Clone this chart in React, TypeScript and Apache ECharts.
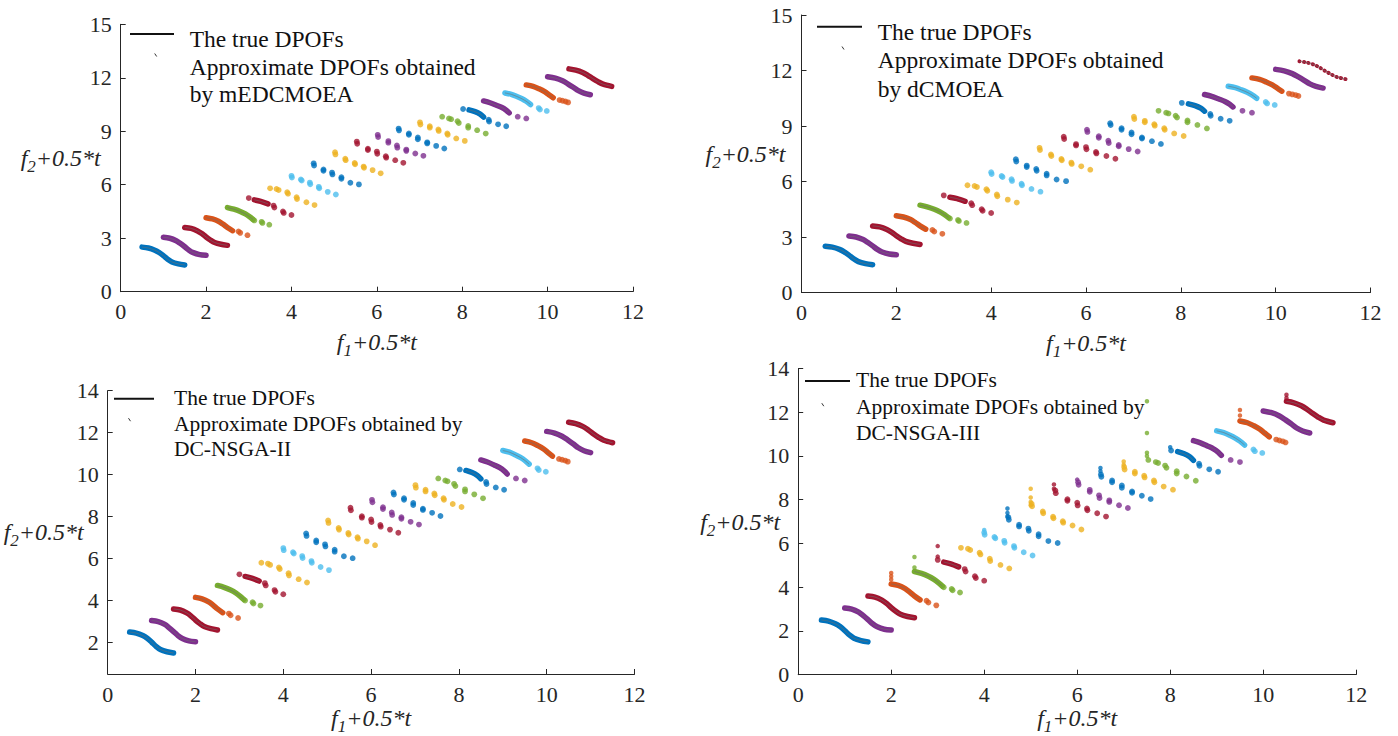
import React, { useEffect, useRef } from "react";
import * as echarts from "echarts";

// ---------- data ----------
const X_TICKS = [0, 2, 4, 6, 8, 10, 12];
const Y_TICKS_A = [0, 3, 6, 9, 12, 15];
const Y_TICKS_C = [2, 4, 6, 8, 10, 12, 14];
const Y_TICKS_D = [0, 2, 4, 6, 8, 10, 12, 14];

const MATLAB: Record<string, string> = {
  blue: "#0072BD",
  orange: "#D95319",
  yellow: "#EDB120",
  purple: "#7E2F8E",
  green: "#77AC30",
  lightblue: "#4DBEEE",
  red: "#A2142F",
};

// colour of each time step (segment), left to right
const SEG_COLORS = [
  "blue", "purple", "red", "orange", "green", "red", "yellow", "lightblue", "blue", "yellow",
  "red", "purple", "blue", "yellow", "green", "blue", "purple", "lightblue", "orange", "purple", "red",
];

// continuous parts of each front: [f1+0.5t, f2+0.5t]
const SEG_RUNS: number[][][] = [
  [[0.5, 2.5], [0.65, 2.45], [0.8, 2.33], [0.9, 2.2], [1.0, 2.02], [1.1, 1.82], [1.2, 1.67], [1.35, 1.56], [1.5, 1.5]],
  [[1.0, 3.05], [1.15, 3.0], [1.3, 2.86], [1.4, 2.7], [1.5, 2.52], [1.6, 2.33], [1.7, 2.19], [1.85, 2.08], [2.0, 2.04]],
  [[1.5, 3.6], [1.65, 3.55], [1.8, 3.41], [1.9, 3.26], [2.0, 3.07], [2.1, 2.9], [2.2, 2.76], [2.35, 2.66], [2.5, 2.6]],
  [[2.0, 4.15], [2.15, 4.08], [2.3, 3.94], [2.4, 3.78], [2.5, 3.6], [2.62, 3.42]],
  [[2.5, 4.72], [2.65, 4.63], [2.8, 4.5], [2.92, 4.36], [3.02, 4.2], [3.1, 4.05]],
  [[3.13, 5.15], [3.28, 5.07], [3.45, 4.93]],
  [], [], [], [], [], [], [], [], [],
  [[8.16, 10.2], [8.3, 10.1], [8.42, 9.96], [8.5, 9.8]],
  [[8.5, 10.7], [8.65, 10.6], [8.8, 10.46], [8.93, 10.33], [9.03, 10.18], [9.1, 10.03]],
  [[9.0, 11.15], [9.15, 11.07], [9.28, 10.95], [9.4, 10.82], [9.5, 10.68], [9.6, 10.5]],
  [[9.5, 11.6], [9.66, 11.52], [9.8, 11.38], [9.93, 11.22], [10.03, 11.05], [10.13, 10.88]],
  [[10.0, 12.06], [10.18, 11.98], [10.35, 11.83], [10.48, 11.65], [10.6, 11.47], [10.72, 11.28], [10.85, 11.14], [11.0, 11.05]],
  [[10.5, 12.5], [10.66, 12.43], [10.82, 12.3], [10.94, 12.14], [11.06, 11.95], [11.18, 11.78], [11.3, 11.64], [11.5, 11.52]],
];

// isolated pieces of each front
const SEG_DOTS: number[][][] = [
  [], [], [],
  [[2.76, 3.38], [2.8, 3.3], [2.97, 3.17]],
  [[3.13, 4.0], [3.3, 3.92], [3.32, 3.86], [3.48, 3.76]],
  [[3.0, 5.25], [3.58, 4.83], [3.6, 4.72], [3.8, 4.5], [3.82, 4.42], [4.0, 4.3]],
  [[3.5, 5.8], [3.65, 5.76], [3.7, 5.7], [3.9, 5.58], [3.92, 5.5], [4.12, 5.3], [4.13, 5.2], [4.35, 5.02], [4.54, 4.86]],
  [[4.0, 6.5], [4.01, 6.4], [4.22, 6.3], [4.24, 6.24], [4.43, 6.12], [4.44, 6.03], [4.64, 5.88], [4.65, 5.8], [4.85, 5.6], [5.04, 5.45]],
  [[4.52, 7.2], [4.53, 7.08], [4.75, 6.86], [4.75, 6.78], [4.95, 6.68], [4.96, 6.58], [5.17, 6.42], [5.17, 6.33], [5.38, 6.11], [5.58, 6.02]],
  [[5.02, 7.82], [5.03, 7.7], [5.26, 7.46], [5.27, 7.38], [5.48, 7.22], [5.49, 7.15], [5.69, 7.02], [5.7, 6.95], [5.9, 6.82], [6.09, 6.64]],
  [[5.53, 8.42], [5.54, 8.3], [5.79, 8.02], [5.79, 7.95], [6.0, 7.86], [6.01, 7.74], [6.21, 7.6], [6.22, 7.52], [6.43, 7.38], [6.62, 7.23]],
  [[6.02, 8.8], [6.03, 8.68], [6.27, 8.45], [6.27, 8.36], [6.47, 8.2], [6.48, 8.08], [6.69, 7.97], [6.69, 7.9], [6.9, 7.75], [7.09, 7.62]],
  [[6.51, 9.15], [6.52, 9.05], [6.75, 8.88], [6.75, 8.8], [6.96, 8.65], [6.96, 8.55], [7.18, 8.38], [7.18, 8.32], [7.39, 8.18], [7.58, 8.03]],
  [[7.01, 9.5], [7.02, 9.38], [7.24, 9.28], [7.24, 9.2], [7.44, 9.1], [7.45, 9.02], [7.65, 8.88], [7.66, 8.8], [7.86, 8.6], [8.06, 8.46]],
  [[7.53, 9.82], [7.69, 9.72], [7.74, 9.68], [7.89, 9.56], [7.92, 9.46], [8.14, 9.3], [8.14, 9.2], [8.35, 9.06], [8.55, 8.87]],
  [[8.02, 10.25], [8.62, 9.65], [8.63, 9.55], [8.84, 9.39], [9.03, 9.28]],
  [[9.3, 9.82], [9.5, 9.72]],
  [[9.79, 10.3], [9.82, 10.22], [9.98, 10.14]],
  [[10.28, 10.75], [10.35, 10.71], [10.42, 10.67], [10.48, 10.62]],
  [], [],
];

// extra points found only by DC-NSGA-III: [x, y, segment]
const NSGA3_EXTRA = [
  [2.0, 4.65, 3], [2.0, 4.5, 3], [2.0, 4.35, 3],
  [2.5, 5.38, 4], [2.5, 4.9, 4],
  [3.0, 5.88, 5], [3.0, 5.4, 5],
  [4.0, 6.62, 7],
  [4.5, 7.6, 8], [4.5, 7.4, 8], [4.5, 7.25, 8],
  [5.0, 8.5, 9], [5.0, 8.1, 9], [5.0, 7.9, 9], [5.0, 7.75, 9],
  [5.5, 8.7, 10], [5.5, 8.5, 10],
  [6.0, 8.92, 11],
  [6.5, 9.45, 12], [6.5, 9.3, 12],
  [7.0, 9.75, 13], [7.0, 9.6, 13],
  [7.5, 12.5, 14], [7.5, 11.05, 14], [7.5, 10.15, 14], [7.5, 10.0, 14],
  [8.0, 10.4, 15],
  [9.5, 12.1, 18], [9.5, 11.85, 18],
  [10.5, 12.8, 20], [10.5, 12.65, 20],
];

const LEGEND_TRUE = "The true DPOFs";
const ALGORITHMS = ["mEDCMOEA", "dCMOEA", "DC-NSGA-II", "DC-NSGA-III"];

// ---------- layout ----------
const SERIF = "Liberation Serif";
const INK = "#262626";

const PANELS = [
  {
    grid: { left: 120.7, top: 24.3, width: 512.3, height: 267.4 },
    y: { min: 0, max: 15, ticks: Y_TICKS_A },
    yGap: 20, xGap: 33,
    legend: { lx: 130, lx2: 174, ly: 34, mx: 155.7, my: 55, tx: 189.7, ty: [39, 66.5, 94], size: 23.5,
      lines: [LEGEND_TRUE, "Approximate DPOFs obtained", "by " + ALGORITHMS[0]] },
    dotted: [] as number[], extra: false,
  },
  {
    grid: { left: 801.5, top: 15, width: 569, height: 277.5 },
    y: { min: 0, max: 15, ticks: Y_TICKS_A },
    yGap: 16, xGap: 33,
    legend: { lx: 817, lx2: 862, ly: 26.7, mx: 843, my: 48, tx: 877.7, ty: [31.5, 60, 89], size: 23.5,
      lines: [LEGEND_TRUE, "Approximate DPOFs obtained", "by " + ALGORITHMS[1]] },
    dotted: [20], extra: false,
  },
  {
    grid: { left: 107.7, top: 390.7, width: 526.8, height: 283.3 },
    y: { min: 0.5, max: 14, ticks: Y_TICKS_C },
    yGap: 24, xGap: 27,
    legend: { lx: 114, lx2: 154, ly: 398.7, mx: 129.5, my: 419.7, tx: 174, ty: [398, 424, 448.5], size: 21.5,
      lines: [LEGEND_TRUE, "Approximate DPOFs obtained by", ALGORITHMS[2]] },
    dotted: [] as number[], extra: false,
  },
  {
    grid: { left: 798.2, top: 368.5, width: 558, height: 306.2 },
    y: { min: 0, max: 14, ticks: Y_TICKS_D },
    yGap: 18, xGap: 26,
    legend: { lx: 805, lx2: 850, ly: 381, mx: 822.8, my: 404.7, tx: 856, ty: [379.5, 406.5, 433], size: 21.5,
      lines: [LEGEND_TRUE, "Approximate DPOFs obtained by", ALGORITHMS[3]] },
    dotted: [] as number[], extra: true,
  },
];

const titleRich = {
  i: { fontFamily: SERIF, fontStyle: "italic", fontSize: 24, color: INK, lineHeight: 34, verticalAlign: "middle" },
  s: { fontFamily: SERIF, fontStyle: "italic", fontSize: 17, color: INK, lineHeight: 14, verticalAlign: "bottom" },
};

function buildOption() {
  const grid: any[] = [];
  const xAxis: any[] = [];
  const yAxis: any[] = [];
  const series: any[] = [];
  const graphic: any[] = [];

  PANELS.forEach((p, pi) => {
    grid.push({ ...p.grid, containLabel: false });
    xAxis.push({
      type: "value", gridIndex: pi, min: X_TICKS[0], max: X_TICKS[X_TICKS.length - 1],
      interval: X_TICKS[1] - X_TICKS[0],
      axisLine: { show: true, onZero: false, lineStyle: { color: INK, width: 1 } },
      axisTick: { show: true, inside: true, length: 5, lineStyle: { color: INK } },
      axisLabel: { fontFamily: SERIF, fontSize: 22, color: INK, margin: 9 },
      splitLine: { show: false },
      name: "{i|f}{s|1}{i|+0.5*t}",
      nameLocation: "middle", nameGap: p.xGap, nameMoveOverlap: false,
      nameTextStyle: { fontFamily: SERIF, rich: titleRich, verticalAlign: "top", align: "center" },
    });
    const ya: any = {
      type: "value", gridIndex: pi, min: p.y.min, max: p.y.max,
      axisLine: { show: true, onZero: false, lineStyle: { color: INK, width: 1 } },
      axisTick: { show: true, inside: true, length: 5, lineStyle: { color: INK } },
      axisLabel: { fontFamily: SERIF, fontSize: 22, color: INK, margin: 9 },
      splitLine: { show: false },
      name: "{i|f}{s|2}{i|+0.5*t}",
      nameLocation: "middle", nameGap: p.yGap, nameRotate: 0, nameMoveOverlap: false,
      nameTextStyle: { fontFamily: SERIF, rich: titleRich, verticalAlign: "middle", align: "right" },
    };
    if (p.y.min === p.y.ticks[0]) {
      ya.interval = p.y.ticks[1] - p.y.ticks[0];
    } else {
      ya.axisLabel.customValues = p.y.ticks;
      ya.axisTick.customValues = p.y.ticks;
    }
    yAxis.push(ya);

    SEG_COLORS.forEach((ck, k) => {
      const color = MATLAB[ck];
      const run = SEG_RUNS[k];
      const dotted = p.dotted.indexOf(k) >= 0;
      if (run.length > 1) {
        series.push({
          type: "line", xAxisIndex: pi, yAxisIndex: pi, data: run, smooth: 0.3,
          symbol: "none", silent: true, z: 2,
          lineStyle: dotted
            ? { color, width: 3.8, cap: "round", join: "round", type: [0.5, 4] }
            : { color, width: 5.5, cap: "round", join: "round" },
        });
        series.push({
          type: "line", xAxisIndex: pi, yAxisIndex: pi, data: run, smooth: 0.3,
          symbol: "none", silent: true, z: 3,
          lineStyle: { color: "rgba(110,110,110,0.75)", width: 0.8 },
        });
      }
      if (SEG_DOTS[k].length) {
        series.push({
          type: "scatter", xAxisIndex: pi, yAxisIndex: pi, data: SEG_DOTS[k],
          symbol: "circle", symbolSize: 5.8, silent: true, z: 2,
          itemStyle: { color },
        });
      }
    });
    if (p.extra) {
      series.push({
        type: "scatter", xAxisIndex: pi, yAxisIndex: pi,
        data: NSGA3_EXTRA.map((d) => ({ value: [d[0], d[1]], itemStyle: { color: MATLAB[SEG_COLORS[d[2]]] } })),
        symbol: "circle", symbolSize: 4.5, silent: true, z: 2,
      });
    }

    const L = p.legend;
    graphic.push({
      type: "line", silent: true,
      shape: { x1: L.lx, y1: L.ly, x2: L.lx2, y2: L.ly },
      style: { stroke: "#111", lineWidth: 2 },
    });
    graphic.push({
      type: "line", silent: true,
      shape: { x1: L.mx - 1, y1: L.my - 1.5, x2: L.mx + 1, y2: L.my + 1.5 },
      style: { stroke: "#333", lineWidth: 1 },
    });
    L.lines.forEach((txt, li) => {
      graphic.push({
        type: "text", silent: true, x: L.tx, y: L.ty[li],
        style: { text: txt, fontFamily: SERIF, fontSize: L.size, fill: "#111",
          textAlign: "left", textVerticalAlign: "middle" },
      });
    });
  });

  return {
    animation: false,
    backgroundColor: "#ffffff",
    textStyle: { fontFamily: SERIF },
    grid, xAxis, yAxis, series, graphic,
  };
}

export default function App() {
  const ref = useRef<HTMLDivElement>(null);
  useEffect(() => {
    document.body.style.margin = "0";
    document.body.style.overflow = "hidden";
    const chart = echarts.init(ref.current!, undefined, { renderer: "svg" });
    chart.setOption(buildOption() as any);
    return () => chart.dispose();
  }, []);
  return (
    <div
      ref={ref}
      style={{ position: "fixed", left: 0, top: 0, width: 1398, height: 736, background: "#fff" }}
    />
  );
}
